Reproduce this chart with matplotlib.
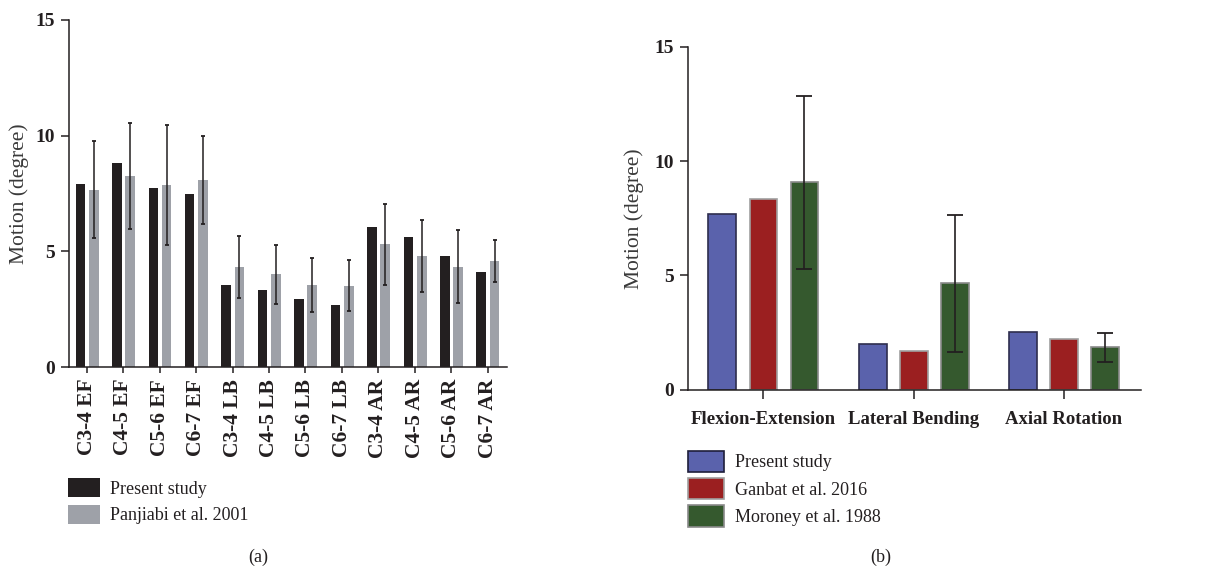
import matplotlib
matplotlib.use("Agg")
import matplotlib.pyplot as plt
import numpy as np
from matplotlib.patches import Patch

plt.rcParams['font.family'] = ['Liberation Serif', 'DejaVu Serif']
TXT = '#231f20'

# panel (a) data
levels = ['C3-4 EF', 'C4-5 EF', 'C5-6 EF', 'C6-7 EF',
          'C3-4 LB', 'C4-5 LB', 'C5-6 LB', 'C6-7 LB',
          'C3-4 AR', 'C4-5 AR', 'C5-6 AR', 'C6-7 AR']
present_a = [7.92, 8.81, 7.73, 7.47, 3.54, 3.34, 2.94, 2.66, 6.06, 5.63, 4.79, 4.10]
panjabi = [7.66, 8.26, 7.87, 8.08, 4.33, 4.00, 3.54, 3.51, 5.30, 4.79, 4.33, 4.58]
panjabi_sd = [2.10, 2.28, 2.58, 1.90, 1.33, 1.27, 1.17, 1.10, 1.75, 1.55, 1.57, 0.90]

# panel (b) data
motions = ['Flexion-Extension', 'Lateral Bending', 'Axial Rotation']
present_b = [7.68, 2.01, 2.51]
ganbat = [8.34, 1.69, 2.20]
moroney = [9.07, 4.66, 1.85]
moroney_sd = [3.78, 2.99, 0.65]

fig = plt.figure(figsize=(12.13, 5.69), dpi=100)

## (a)
ax1 = fig.add_axes([0.0569, 0.355, 0.361, 0.610])
x = np.arange(len(levels))
ax1.bar(x - 0.175, present_a, width=0.26, color='#231f20', label='Present study')
ax1.bar(x + 0.19, panjabi, width=0.27, color='#9ea1a8', label='Panjiabi et al. 2001')
ax1.errorbar(x + 0.19, panjabi, yerr=panjabi_sd, fmt='none', ecolor=TXT,
             elinewidth=1.1, capsize=1.6, capthick=1.3)
ax1.set_xlim(-0.486, 11.53)
ax1.set_ylim(0, 15)
ax1.set_yticks([0, 5, 10, 15])
ax1.set_xticks(x)
ax1.set_xticklabels(levels, rotation=90, fontweight='bold', fontsize=15.5, color=TXT)
ax1.set_ylabel('Motion (degree)', fontsize=15.5, color='#3a3a3a', labelpad=5)
ax1.tick_params(axis='x', length=4.5, width=1.1, color=TXT, pad=4)

## (b)
ax2 = fig.add_axes([0.5674, 0.3151, 0.3730, 0.6028])
xb = np.arange(len(motions))
off = 0.273
w = 0.185
ax2.bar(xb - off, present_b, width=w, color='#5a62ac', edgecolor='#2e2e4e', linewidth=1.2)
ax2.bar(xb, ganbat, width=w, color='#9b1f20', edgecolor='#a0a0a0', linewidth=1.2)
ax2.bar(xb + off, moroney, width=w, color='#35592e', edgecolor='#8a8a8a', linewidth=1.2)
ax2.errorbar(xb + off, moroney, yerr=moroney_sd, fmt='none', ecolor=TXT,
             elinewidth=1.2, capsize=5.5, capthick=1.3)
ax2.set_xlim(-0.5, 2.51)
ax2.set_ylim(0, 15)
ax2.set_yticks([0, 5, 10, 15])
ax2.set_xticks(xb)
ax2.set_xticklabels(motions, fontweight='bold', fontsize=13.5, color=TXT)
ax2.set_ylabel('Motion (degree)', fontsize=15.5, color='#3a3a3a', labelpad=8)
ax2.tick_params(axis='x', length=6.5, width=1.1, color=TXT, pad=9)

for ax in (ax1, ax2):
    ax.spines['top'].set_visible(False)
    ax.spines['right'].set_visible(False)
    for s in ('left', 'bottom'):
        ax.spines[s].set_linewidth(1.1)
        ax.spines[s].set_color(TXT)
    ax.tick_params(axis='y', length=6, width=1.1, color=TXT, labelsize=14, labelcolor=TXT, pad=4)
    for lab in ax.get_yticklabels():
        lab.set_fontweight('bold')

# legends
h_a = [Patch(facecolor='#231f20', edgecolor='none'), Patch(facecolor='#9ea1a8', edgecolor='none')]
fig.legend(h_a, ['Present study', 'Panjiabi et al. 2001'], loc='upper left',
           bbox_to_anchor=(0.056, 0.16), frameon=False, fontsize=13,
           handlelength=1.75, handleheight=1.25, handletextpad=0.6, labelspacing=0.4,
           labelcolor=TXT, borderaxespad=0, borderpad=0)
h_b = [Patch(facecolor='#5a62ac', edgecolor='#1e1e3a', linewidth=1.2),
       Patch(facecolor='#9b1f20', edgecolor='#a0a0a0', linewidth=1.2),
       Patch(facecolor='#35592e', edgecolor='#8a8a8a', linewidth=1.2)]
fig.legend(h_b, ['Present study', 'Ganbat et al. 2016', 'Moroney et al. 1988'], loc='upper left',
           bbox_to_anchor=(0.5675, 0.208), frameon=False, fontsize=13,
           handlelength=1.95, handleheight=1.42, handletextpad=0.65, labelspacing=0.35,
           labelcolor=TXT, borderaxespad=0, borderpad=0)

fig.text(0.213, 0.012, '(a)', ha='center', fontsize=13, color=TXT)
fig.text(0.726, 0.012, '(b)', ha='center', fontsize=13, color=TXT)

fig.savefig('out.png', dpi=100)
